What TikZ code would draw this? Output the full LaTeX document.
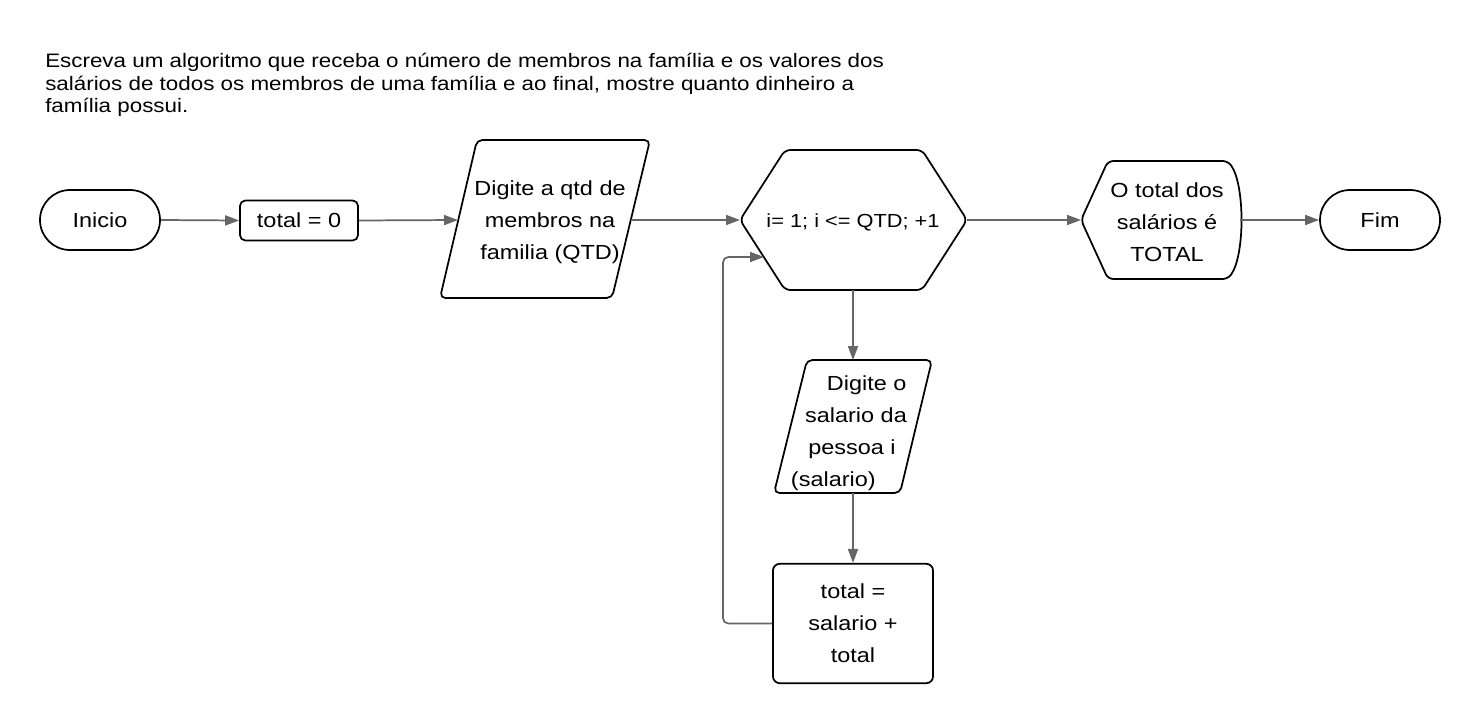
\documentclass[tikz,border=0pt]{standalone}
\usepackage{fontspec}
\setmainfont[FakeStretch=1.15]{Liberation Sans}
\usetikzlibrary{arrows.meta}
\definecolor{conngray}{HTML}{666666}
\begin{document}
\begin{tikzpicture}[x=0.75pt,y=-0.75pt,
  outline/.style={draw=black, line width=1.3pt, rounded corners=4pt},
  conn/.style={draw=conngray, line width=1.3pt, -{Triangle[length=10.5pt,width=7.5pt]}},
  txt/.style={font=\fontsize{15.3}{24}\selectfont, align=center, inner sep=0pt},
  stadium/.style={outline, txt, minimum width=90pt, minimum height=45pt, rounded corners=22.5pt},
  titletxt/.style={font=\fontsize{14.6}{16.9}\selectfont, align=left, inner sep=0pt, anchor=north west}
]
\useasboundingbox (0,0) rectangle (1480,724);

\node[titletxt] (title) at (45,53) {Escreva um algoritmo que receba o número de membros na família e os valores dos\\salários de todos os membros de uma família e ao final, mostre quanto dinheiro a\\família possui.};

% start / end
\node[stadium] (inicio) at (100,220) {Inicio};
\node[stadium] (fim) at (1380,220) {Fim};

% total = 0
\node[outline, txt, minimum width=88.5pt, minimum height=30pt, rounded corners=4pt] (tot0) at (299,220.5) {\raisebox{-3pt}{total = 0}};

% input parallelogram 1
\draw[outline] (477,140) -- (650,140) -- (612,298) -- (440,298) -- cycle;
\coordinate (p1in) at (458,220);
\coordinate (p1out) at (631,220);
\node[txt] (p1txt) at (550,222) {Digite a qtd de\\membros na\\familia (QTD)};

% hexagon loop
\draw[outline] (740,220) -- (785,150) -- (922,150) -- (967,220) -- (922,290) -- (785,290) -- cycle;
\coordinate (hexL) at (740,220);
\coordinate (hexR) at (967,220);
\coordinate (hexB) at (853,290);
\coordinate (hexLL) at (764,257);
\node[txt, font=\fontsize{14.2}{24}\selectfont] (hextxt) at (853,222) {i= 1; i <= QTD; +1};

% display
\draw[outline] (1081,220) -- (1108,161) -- (1228,161) .. controls (1245,185) and (1245,255) .. (1228,279) -- (1108,279) -- cycle;
\coordinate (dispL) at (1081,220);
\coordinate (dispR) at (1240,220);
\node[txt] (disptxt) at (1167,222) {O total dos\\salários é\\TOTAL};

% input parallelogram 2
\draw[outline] (807,360) -- (932,360) -- (900,493) -- (774,493) -- cycle;
\coordinate (p2top) at (853,360);
\coordinate (p2bot) at (853,493);
\node[txt] (p2txt) at (852,433) {\hspace*{22pt}Digite o\\\hspace*{6pt}salario da\\pessoa i\hspace*{10pt}\\(salario)\hspace*{28pt}};

% sum box
\node[outline, txt, minimum width=120pt, minimum height=89.5pt, rounded corners=5pt] (sumbox) at (853,623.5) {total =\\salario +\\total};

% connectors
\coordinate (loopc) at (723,257);
\draw[conn] (inicio.east) -- (tot0.west);
\draw[conn] (tot0.east) -- (p1in);
\draw[conn] (p1out) -- (hexL);
\draw[conn] (hexR) -- (dispL);
\draw[conn] (dispR) -- (fim.west);
\draw[conn] (hexB) -- (p2top);
\draw[conn] (p2bot) -- (sumbox.north);
\draw[conn, rounded corners=4pt] (sumbox.west) -| (loopc) -- (hexLL);
\end{tikzpicture}
\end{document}
